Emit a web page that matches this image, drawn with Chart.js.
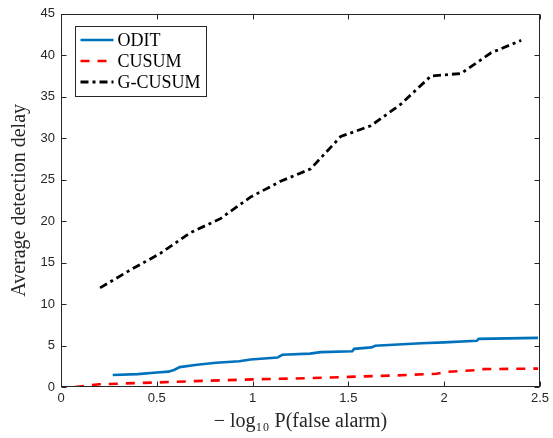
<!DOCTYPE html>
<html><head><meta charset="utf-8">
<script src="https://cdn.jsdelivr.net/npm/chart.js@4/dist/chart.umd.min.js"></script>
<style>html,body{margin:0;padding:0;background:#fff;overflow:hidden}</style>
</head><body>
<canvas id="c" width="553" height="438"></canvas>
<script>
const seriesNames = ['ODIT', 'CUSUM', 'G-CUSUM'];

const oditX = [0.27, 0.40, 0.50, 0.56, 0.59, 0.62, 0.71, 0.81, 0.93, 0.99, 1.13, 1.155, 1.30, 1.355, 1.52, 1.53, 1.62, 1.64, 1.88, 2.00, 2.17, 2.18, 2.49];
const oditY = [1.45, 1.55, 1.74, 1.85, 2.05, 2.40, 2.68, 2.93, 3.10, 3.32, 3.55, 3.88, 4.02, 4.20, 4.30, 4.60, 4.78, 4.98, 5.27, 5.38, 5.57, 5.80, 5.92];

const cusumX = [0.073, 0.20, 0.50, 0.75, 1.00, 1.30, 1.50, 1.75, 1.96, 2.01, 2.17, 2.19, 2.49];
const cusumY = [0.00, 0.33, 0.55, 0.75, 0.92, 1.07, 1.22, 1.40, 1.60, 1.83, 2.03, 2.15, 2.22];

const gcusumX = [0.204, 0.361, 0.518, 0.675, 0.832, 0.989, 1.146, 1.303, 1.460, 1.617, 1.774, 1.931, 2.088, 2.245, 2.402];
const gcusumY = [11.95, 14.1, 16.1, 18.6, 20.3, 22.9, 24.8, 26.3, 30.2, 31.5, 34.1, 37.5, 37.8, 40.3, 41.8];

const xTickValues = [0, 0.5, 1, 1.5, 2, 2.5];
const yTickValues = [0, 5, 10, 15, 20, 25, 30, 35, 40, 45];
const xTitle = '\u2212 log\u2081\u2080 P(false alarm)';
const yTitle = 'Average detection delay';

const pts = (xs, ys) => xs.map((x, i) => ({x: x, y: ys[i]}));
const AXC = '#262626';

const framePlugin = {
  id: 'frameLegend',
  afterDraw(chart) {
    const ctx = chart.ctx;
    const {left, top, right, bottom} = chart.chartArea;
    const xs = chart.scales.x, ys = chart.scales.y;
    ctx.save();
    ctx.strokeStyle = AXC;
    ctx.lineWidth = 1;
    ctx.setLineDash([]);
    const L = Math.round(left) + 0.5, R = Math.round(right) - 0.5;
    const T = Math.round(top) + 0.5, B = Math.round(bottom) - 0.5;
    ctx.beginPath();
    xTickValues.forEach(v => {
      const p = Math.round(xs.getPixelForValue(v)) + 0.5;
      ctx.moveTo(p, B); ctx.lineTo(p, B - 5);
      ctx.moveTo(p, T); ctx.lineTo(p, T + 5);
    });
    yTickValues.forEach(v => {
      const p = Math.round(ys.getPixelForValue(v)) + 0.5;
      ctx.moveTo(L, p); ctx.lineTo(L + 5, p);
      ctx.moveTo(R, p); ctx.lineTo(R - 5, p);
    });
    ctx.stroke();
    ctx.strokeRect(L, T, R - L, B - T);

    // legend box
    const bx = Math.round(left) + 14.5, by = Math.round(top) + 12.5, bw = 131, bh = 70;
    ctx.fillStyle = '#fff';
    ctx.fillRect(bx, by, bw, bh);
    ctx.strokeStyle = AXC;
    ctx.strokeRect(bx, by, bw, bh);
    ctx.font = '18px "Liberation Serif"';
    ctx.textBaseline = 'middle';
    ctx.textAlign = 'left';
    chart.data.datasets.forEach((ds, i) => {
      const yy = by + 13.5 + i * 21;
      ctx.beginPath();
      ctx.strokeStyle = ds.borderColor;
      ctx.lineWidth = ds.borderWidth;
      ctx.setLineDash(ds.borderDash || []);
      ctx.moveTo(bx + 5, yy);
      ctx.lineTo(bx + 38, yy);
      ctx.stroke();
      ctx.setLineDash([]);
      ctx.fillStyle = '#000';
      ctx.fillText(ds.label, bx + 42, yy + 1);
    });
    ctx.restore();
  }
};

new Chart(document.getElementById('c'), {
  type: 'line',
  data: {
    datasets: [
      {label: seriesNames[0], data: pts(oditX, oditY), borderColor: '#0072BD', borderWidth: 2.6, borderDash: [], pointRadius: 0, tension: 0, fill: false},
      {label: seriesNames[1], data: pts(cusumX, cusumY), borderColor: '#FF0000', borderWidth: 2.6, borderDash: [9, 8], pointRadius: 0, tension: 0, fill: false},
      {label: seriesNames[2], data: pts(gcusumX, gcusumY), borderColor: '#000000', borderWidth: 2.8, borderDash: [8, 4, 3, 4], pointRadius: 0, tension: 0, fill: false}
    ]
  },
  options: {
    responsive: false,
    animation: false,
    devicePixelRatio: 1,
    layout: {padding: {left: 0, top: 10, right: 13, bottom: 0}},
    plugins: {legend: {display: false}, tooltip: {enabled: false}},
    scales: {
      x: {
        type: 'linear', min: 0, max: 2.5,
        afterBuildTicks: s => { s.ticks = xTickValues.map(v => ({value: v})); },
        afterFit: s => { s.height = 51; },
        grid: {display: false, drawTicks: false, tickLength: 0}, border: {display: false},
        ticks: {font: {family: 'Liberation Sans', size: 13}, color: AXC, padding: 4, maxRotation: 0, autoSkip: false, callback: v => String(v)},
        title: {display: true, text: xTitle, font: {family: 'Liberation Serif', size: 20}, color: AXC, padding: {top: 0, bottom: 4}}
      },
      y: {
        type: 'linear', min: 0, max: 45,
        afterBuildTicks: s => { s.ticks = yTickValues.map(v => ({value: v})); },
        afterFit: s => { s.width = 61; },
        grid: {display: false, drawTicks: false, tickLength: 0}, border: {display: false},
        ticks: {font: {family: 'Liberation Sans', size: 13}, color: AXC, padding: 6, autoSkip: false, callback: v => String(v)},
        title: {display: true, text: yTitle, font: {family: 'Liberation Serif', size: 20}, color: AXC, padding: {top: 8, bottom: 0}}
      }
    }
  },
  plugins: [framePlugin]
});
</script>
</body></html>
